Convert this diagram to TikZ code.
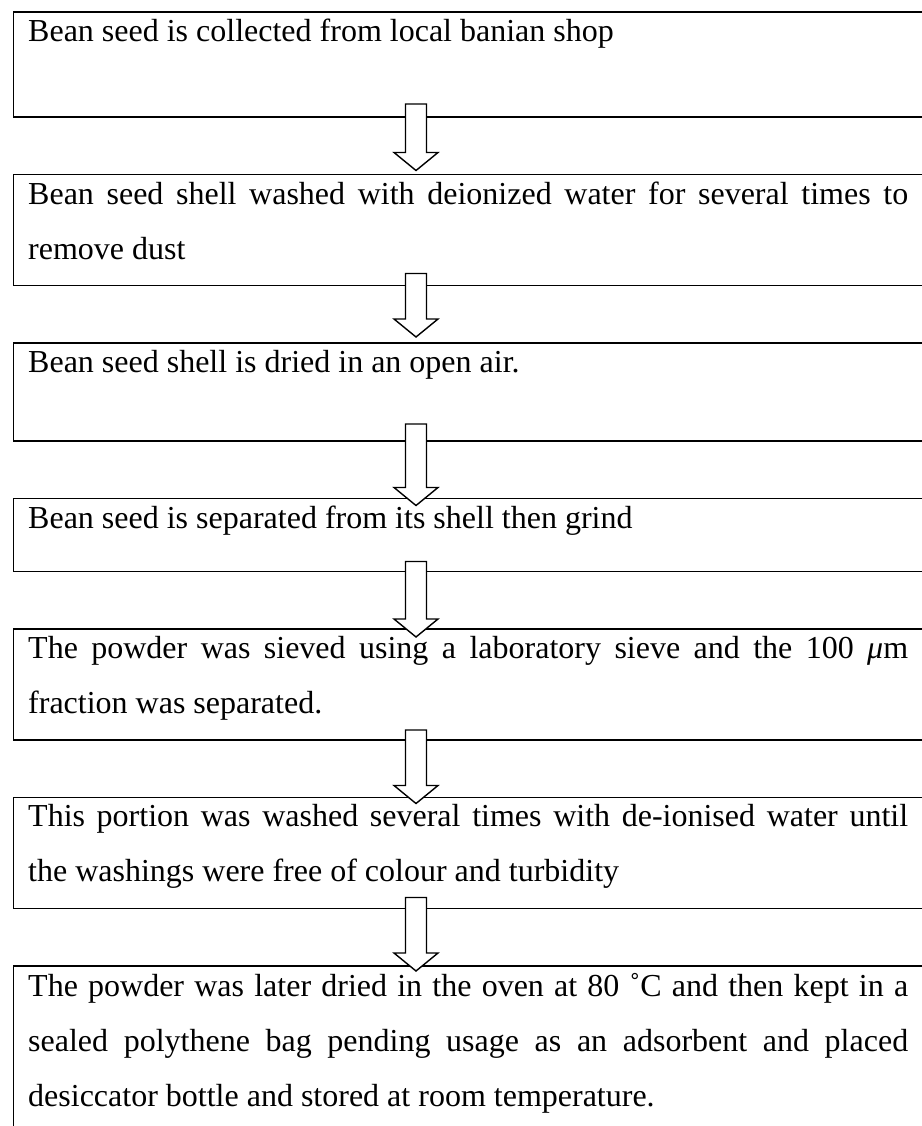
\documentclass[tikz,border=0pt]{standalone}
\usepackage{fontspec}
\setmainfont{Liberation Serif}
\usetikzlibrary{calc,positioning}

\tikzset{
  stepbox/.style={draw, line width=1.4pt, inner sep=0pt, outer sep=0pt, minimum width=940pt},
  steptext/.style={anchor=north west, inner sep=0pt, text width=880pt, align=justify, font=\fontsize{32}{55}\selectfont},
  blockarrow/.style={draw, fill=white, line width=1.4pt, line join=miter},
}

% block arrow: from box, to box, start above bottom of first box, tip below top of second box
\newcommand{\flowarrow}[4]{%
  \draw[blockarrow] let \p1=($(#1.south west)+(402.5,-#3)$), \p2=($(#2.north)+(0,#4)$) in
    (\x1-10.5pt,\y1) -- (\x1+10.5pt,\y1) -- (\x1+10.5pt,\y2+18pt) -- (\x1+22pt,\y2+18pt)
    -- (\x1,\y2) -- (\x1-22pt,\y2+18pt) -- (\x1-10.5pt,\y2+18pt) -- cycle ;}

\begin{document}
\begin{tikzpicture}[x=1pt,y=-1pt,node distance=57.5pt]
        \useasboundingbox (0,0) rectangle (921,1126);

        % Boxes
        \node [stepbox, anchor=north west, minimum height=105pt] (b1) at (13.5,12) {};
        \node [stepbox, minimum height=111pt, below=of b1] (b2) {};
        \node [stepbox, minimum height=98pt, below=of b2] (b3) {};
        \node [stepbox, minimum height=73pt, below=of b3] (b4) {};
        \node [stepbox, minimum height=111pt, below=of b4] (b5) {};
        \node [stepbox, minimum height=111pt, below=of b5] (b6) {};
        \node [stepbox, minimum height=234pt, below=of b6] (b7) {};

        % Text Node
        \node [steptext] (t1) at ($(b1.north west)+(14.5,7)$) {\noindent Bean seed is collected from local banian shop};
        % Text Node
        \node [steptext] (t2) at ($(b2.north west)+(14.5,7)$) {\noindent Bean seed shell washed with deionized water for several times to\linebreak remove dust};
        % Text Node
        \node [steptext] (t3) at ($(b3.north west)+(14.5,7)$) {\noindent Bean seed shell is dried in an open air.};
        % Text Node
        \node [steptext] (t4) at ($(b4.north west)+(14.5,7)$) {\noindent Bean seed is separated from its shell then grind};
        % Text Node
        \node [steptext] (t5) at ($(b5.north west)+(14.5,7)$) {\noindent The powder was sieved using a laboratory sieve and the 100 \textit{μ}m\linebreak fraction was separated.};
        % Text Node
        \node [steptext] (t6) at ($(b6.north west)+(14.5,7)$) {\noindent This portion was washed several times with de-ionised water until\linebreak the washings were free of colour and turbidity};
        % Text Node
        \node [steptext] (t7) at ($(b7.north west)+(14.5,7)$) {\noindent The powder was later dried in the oven at 80 ˚C and then kept in a\linebreak sealed polythene bag pending usage as an adsorbent and placed\linebreak desiccator bottle and stored at room temperature.};

        % Arrows
        \flowarrow{b1}{b2}{13}{-4}
        \flowarrow{b2}{b3}{12}{-6}
        \flowarrow{b3}{b4}{17}{7}
        \flowarrow{b4}{b5}{10}{8}
        \flowarrow{b5}{b6}{10}{6}
        \flowarrow{b6}{b7}{11}{5}

\end{tikzpicture}
\end{document}
